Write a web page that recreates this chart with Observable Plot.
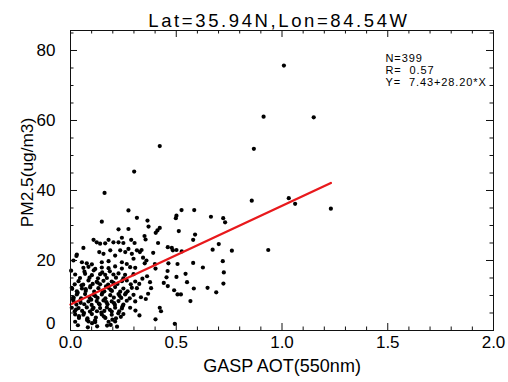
<!DOCTYPE html>
<html>
<head>
<meta charset="utf-8">
<script src="https://cdn.jsdelivr.net/npm/d3@7"></script>
<script src="https://cdn.jsdelivr.net/npm/@observablehq/plot@0.6"></script>
<style>
  html, body { margin: 0; padding: 0; background: #fff; }
  svg text { white-space: pre; }
</style>
</head>
<body>
<div id="chart"></div>
<script>
const titleText = "Lat=35.94N,Lon=84.54W";
const xLabel = "GASP AOT(550nm)";
const yLabel = "PM2.5(ug/m3)";
const statLines = ["N=399", "R=  0.57", "Y=  7.43+28.20*X"];
const fitIntercept = 7.43;
const fitSlope = 28.20;
const fitRangeX = [0.0, 1.231];

const xMajorTicks = [0.0, 0.5, 1.0, 1.5, 2.0];
const xMinorTicks = [0.1,0.2,0.3,0.4,0.6,0.7,0.8,0.9,1.1,1.2,1.3,1.4,1.6,1.7,1.8,1.9];
const yMajorTicks = [0, 20, 40, 60, 80];
const yMinorTicks = [5,10,15,25,30,35,45,50,55,65,70,75,85];

// GASP AOT values (x) and PM2.5 values (y)
const aot = [
  1.009,0.913,1.150,0.422,0.867,0.301,0.161,0.857,1.032,1.062,1.231,0.525,0.585,0.501,0.498,0.664,0.722,0.731,0.364,0.369,
  0.422,0.411,0.403,0.512,0.589,0.580,0.350,0.355,0.414,0.701,0.935,0.763,0.672,0.460,0.479,0.501,0.526,0.484,0.391,0.720,
  0.580,0.626,0.725,0.723,0.648,0.689,0.583,0.567,0.501,0.544,0.506,0.551,0.490,0.506,0.522,0.493,0.402,0.422,0.428,0.459,
  0.463,0.454,0.441,0.460,0.376,0.381,0.367,0.356,0.340,0.325,0.333,0.326,0.307,
  0.402,0.362,0.336,0.328,0.343,0.359,0.351,0.399,0.003,0.008,0.013,0.028,0.173,0.220,0.102,
  0.274,0.148,0.314,0.227,0.274,0.243,0.109,0.124,0.140,0.164,0.180,0.203,0.227,0.250,0.287,0.303,0.061,0.136,0.156,0.188,
  0.211,0.235,0.259,0.274,0.290,0.314,0.030,0.014,0.054,0.077,0.101,0.148,0.180,0.243,0.266,0.298,
  0.061,0.085,0.117,0.148,0.180,0.211,0.243,0.282,0.306,
  0.022,0.069,0.101,0.140,0.164,0.203,0.227,0.258,0.298,
  0.038,0.085,0.124,0.156,0.195,0.243,0.266,0.306,
  0.006,0.054,0.093,0.132,0.180,0.211,0.250,0.290,0.314,
  0.030,0.069,0.109,0.148,0.188,0.227,0.258,0.298,
  0.014,0.046,0.085,0.124,0.156,0.195,0.227,0.266,0.306,
  0.006,0.038,0.077,0.109,0.140,0.172,0.211,0.243,0.282,
  0.022,0.061,0.101,0.148,0.195,0.250,
  0.022,0.085,0.117,0.180,0.211,
  0.045,0.090,0.130,0.172,0.215,0.250,
  0.020,0.060,0.105,0.140,0.178,0.222,0.285,
  0.030,0.072,0.112,0.160,0.196,0.235,0.270,
  0.015,0.050,0.090,0.128,0.165,0.205,0.240,0.280,
  0.028,0.065,0.100,0.138,0.175,0.210,0.250,
  0.020,0.055,0.092,0.125,0.160,0.195,0.230,
  0.040,0.080,0.120,0.165,0.215,
  0.034,0.072,0.118,0.152,0.190,0.232,0.262,
  0.012,0.048,0.098,0.134,0.170,0.206,0.246,
  0.026,0.064,0.104,0.146,0.186,0.226,
  0.040,0.078,0.116,0.158,0.198,0.238,
  0.052,0.094,0.128,0.168,0.204,
  0.066,0.110,0.150,0.186,
  0.035,0.082,0.126,0.190
];
const pm25 = [
  75.7,61.1,60.9,52.7,51.9,45.4,39.3,37.1,37.8,36.2,34.8,34.4,34.4,32.8,32.1,32.5,32.1,30.9,31.4,29.7,
  29.3,28.6,27.9,28.4,27.4,25.9,27.0,26.0,25.0,24.7,23.0,22.8,23.1,23.8,23.6,23.0,22.6,22.9,22.2,19.8,
  19.3,18.0,16.6,13.4,12.2,10.9,12.0,8.4,15.3,16.2,19.0,13.8,11.5,10.3,10.3,1.9,3.2,6.5,5.5,17.0,
  19.2,15.2,13.6,12.7,13.8,12.1,10.5,9.0,14.8,13.3,9.5,4.3,5.7,
  17.7,15.5,23.0,22.4,20.8,20.0,19.2,19.0,17.1,11.9,9.5,21.3,1.4,1.1,2.1,
  34.3,31.1,32.2,28.9,29.0,26.5,25.9,25.2,24.8,24.9,25.9,25.2,25.2,25.0,25.9,25.0,23.6,22.4,21.9,22.9,
  21.4,22.9,22.4,23.3,21.9,22.9,21.7,20.0,19.5,19.2,18.9,19.5,19.8,19.5,19.0,20.5,
  17.9,18.2,17.6,18.0,17.8,18.3,17.7,18.1,17.9,
  16.0,16.2,15.8,16.1,15.9,16.0,16.3,15.9,16.1,
  14.1,14.3,13.9,14.2,14.0,14.1,14.3,14.0,
  12.2,12.0,12.3,12.1,12.2,12.4,12.0,12.2,12.1,
  10.3,10.4,10.2,10.3,10.1,10.4,10.3,10.2,
  8.4,8.5,8.3,8.4,8.6,8.3,8.4,8.5,8.3,
  6.5,6.4,6.6,6.5,6.4,6.6,6.5,6.3,6.5,
  4.6,4.5,4.7,4.6,4.5,4.7,
  2.5,2.6,2.4,2.5,2.6,
  15.0,15.1,14.9,15.0,15.1,14.9,
  13.2,13.1,13.3,13.2,13.1,13.3,13.2,
  11.2,11.3,11.1,11.2,11.3,11.1,11.2,
  9.3,9.2,9.4,9.3,9.2,9.4,9.3,9.2,
  7.4,7.5,7.3,7.4,7.5,7.3,7.4,
  5.5,5.6,5.4,5.5,5.6,5.4,5.5,
  3.6,3.5,3.7,3.6,3.5,
  10.8,11.8,9.8,10.9,11.6,9.9,10.7,
  8.9,7.9,8.8,7.7,8.1,7.8,6.9,
  6.0,5.0,6.1,5.1,5.9,4.9,
  4.1,3.0,2.9,4.0,3.1,3.9,
  12.9,12.7,13.7,12.6,13.6,
  16.8,17.2,16.6,16.9,
  1.5,0.9,1.2,1.6
];

const points = aot.map((x, i) => ({x, y: pm25[i]}));
const fitLine = fitRangeX.map(x => ({x, y: fitIntercept + fitSlope * x}));

const font = "'Liberation Sans', Arial, Helvetica, sans-serif";
const W = 508, H = 382, mT = 30, mR = 15, mB = 52, mL = 70;
const frameW = W - mL - mR, frameH = H - mT - mB;
const majorLen = 7, minorLen = 3.5;

const chart = Plot.plot({
  width: W,
  height: H,
  marginTop: mT,
  marginRight: mR,
  marginBottom: mB,
  marginLeft: mL,
  x: {domain: [0, 2]},
  y: {domain: [0, 85.71]},
  axis: null,
  style: {fontFamily: font, fontSize: "17px", background: "#fff", color: "#000"},
  marks: [
    Plot.dot(points, {x: "x", y: "y", r: 2.1, fill: "#000", stroke: "none"}),
    Plot.line(fitLine, {x: "x", y: "y", stroke: "#e8191c", strokeWidth: 2.4}),
    Plot.frame({stroke: "#111"}),
    // inward ticks on all four sides
    Plot.tickX(xMinorTicks, {x: d => d, insetTop: frameH - minorLen, stroke: "#111"}),
    Plot.tickX(xMinorTicks, {x: d => d, insetBottom: frameH - minorLen, stroke: "#111"}),
    Plot.tickX(xMajorTicks, {x: d => d, insetTop: frameH - majorLen, stroke: "#111"}),
    Plot.tickX(xMajorTicks, {x: d => d, insetBottom: frameH - majorLen, stroke: "#111"}),
    Plot.tickY(yMinorTicks, {y: d => d, insetRight: frameW - minorLen, stroke: "#111"}),
    Plot.tickY(yMinorTicks, {y: d => d, insetLeft: frameW - minorLen, stroke: "#111"}),
    Plot.tickY(yMajorTicks, {y: d => d, insetRight: frameW - majorLen, stroke: "#111"}),
    Plot.tickY(yMajorTicks, {y: d => d, insetLeft: frameW - majorLen, stroke: "#111"}),
    // tick labels
    Plot.axisX({anchor: "bottom", ticks: xMajorTicks, tickSize: 0, tickPadding: 5, tickFormat: d3.format(".1f"), label: null, fontSize: 17}),
    Plot.axisY({anchor: "left", ticks: yMajorTicks.slice(1), tickSize: 0, tickPadding: 15, tickFormat: d3.format("d"), label: null, fontSize: 17}),
    Plot.axisY({anchor: "left", ticks: yMajorTicks.slice(0, 1), tickSize: 0, tickPadding: 15, tickFormat: d3.format("d"), label: null, fontSize: 17, dy: -7}),
    // labels and annotations
    Plot.text([xLabel], {frameAnchor: "bottom", textAnchor: "middle", dy: 41, fontSize: 18}),
    Plot.text([yLabel], {frameAnchor: "left", textAnchor: "middle", rotate: -90, dx: -43, dy: -8, fontSize: 17.3}),
    Plot.text([titleText], {frameAnchor: "top", textAnchor: "middle", dx: -3, dy: -16.5, fontSize: 18.5}),
    Plot.text([statLines[0]], {frameAnchor: "top-right", textAnchor: "start", dx: -108, dy: 23.3, fontSize: 11}),
    Plot.text([statLines[1]], {frameAnchor: "top-right", textAnchor: "start", dx: -108, dy: 35.3, fontSize: 11}),
    Plot.text([statLines[2]], {frameAnchor: "top-right", textAnchor: "start", dx: -108, dy: 47.3, fontSize: 11})
  ]
});

chart.querySelectorAll("text").forEach(t => {
  if (t.textContent === titleText) t.style.letterSpacing = "2.6px";
  if (statLines.includes(t.textContent)) t.style.letterSpacing = "0.9px";
});

document.getElementById("chart").appendChild(chart);
</script>
</body>
</html>
